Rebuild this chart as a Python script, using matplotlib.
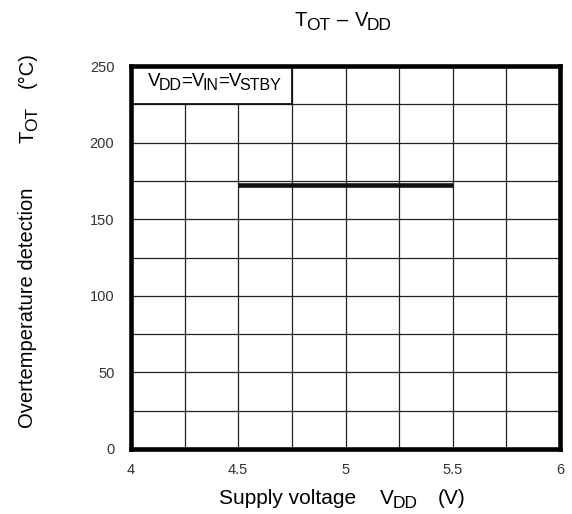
import matplotlib
matplotlib.use("Agg")
import matplotlib.pyplot as plt
from matplotlib.patches import Rectangle
from matplotlib.transforms import IdentityTransform
import numpy as np

plt.rcParams['font.family'] = ['Liberation Sans', 'DejaVu Sans']

W, H = 572, 514

vdd = [4.5, 5.5]
tot = [172, 172]
xticks = [4, 4.5, 5, 5.5, 6]
xticklabels = ['4', '4.5', '5', '5.5', '6']
yticks = [0, 50, 100, 150, 200, 250]


def rich(fig, parts, x, y, size, subsize, align='center', vertical=False):
    # parts: (text, is_subscript, gap in px before); x, y in pixels from top-left
    r = fig.canvas.get_renderer()
    widths = []
    for s, sub, gap in parts:
        t = fig.text(0, 0, s, fontsize=subsize if sub else size)
        widths.append(t.get_window_extent(r).width)
        t.remove()
    total = sum(w + p[2] for w, p in zip(widths, parts))
    pos = -total / 2 if align == 'center' else 0
    for w, (s, sub, gap) in zip(widths, parts):
        pos += gap
        drop = 0.28 * size if sub else 0
        fs = subsize if sub else size
        if vertical:
            fig.text(x + drop, H - (y - pos), s, fontsize=fs, rotation=90,
                     rotation_mode='anchor', ha='left', va='baseline',
                     transform=IdentityTransform())
        else:
            fig.text(x + pos, H - (y + drop), s, fontsize=fs, ha='left',
                     va='baseline', transform=IdentityTransform())
        pos += w


fig = plt.figure(figsize=(W / 100, H / 100), dpi=100)
ax = fig.add_axes([131 / W, 65 / H, 429 / W, 383 / H])

ax.plot(vdd, tot, color='#111111', linewidth=3.3, solid_capstyle='butt', zorder=4)

ax.set_xlim(4, 6)
ax.set_ylim(0, 250)
ax.set_xticks(xticks)
ax.set_xticklabels(xticklabels)
ax.set_yticks(yticks)
ax.set_xticks(np.arange(4, 6.01, 0.25), minor=True)
ax.set_yticks(np.arange(0, 251, 25), minor=True)
ax.grid(which='both', color='#222222', linewidth=0.9)
ax.tick_params(which='both', length=0, labelsize=10.5, labelcolor='#333333')
ax.tick_params(axis='x', pad=10)
ax.tick_params(axis='y', pad=12)
for s in ax.spines.values():
    s.set_linewidth(3.3)
    s.set_zorder(5)

# condition box sits in the top-left grid cells
ax.add_patch(Rectangle((4, 225), 0.75, 25, facecolor='white', edgecolor='#111111',
                       linewidth=1.3, zorder=3))

rich(fig, [('V', False, 0), ('DD', True, -1.5), ('=V', False, -1), ('IN', True, -1.5),
           ('=V', False, -1), ('STBY', True, -1.5)],
     148, 86, 13.5, 11.5, align='left')

rich(fig, [('T', False, 0), ('OT', True, -1.5), ('–', False, 7), ('V', False, 7),
           ('DD', True, -1.5)],
     343.5, 26, 14.5, 12.5)

rich(fig, [('Supply voltage', False, 0), ('V', False, 24), ('DD', True, -2), ('(V)', False, 21)],
     342.5, 504, 15, 12.5)

rich(fig, [('Overtemperature detection', False, 0), ('T', False, 45), ('OT', True, 0),
           ('(°C)', False, 19)],
     33, 240, 14.5, 12.5, vertical=True)

fig.savefig('out.png', dpi=100)
